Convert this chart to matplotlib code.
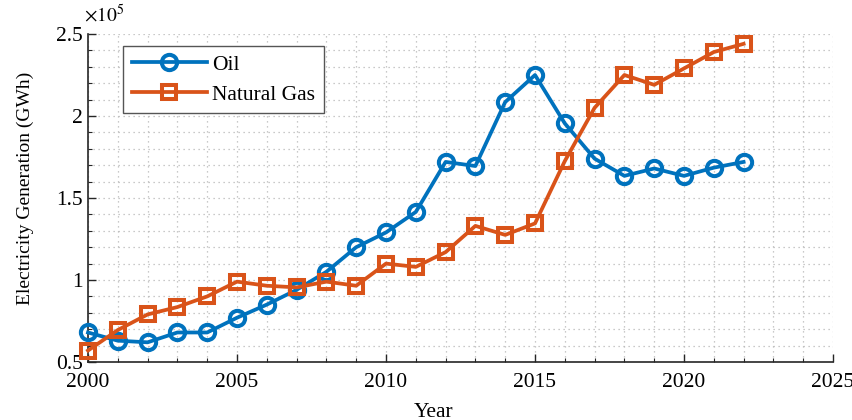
import matplotlib
matplotlib.use("Agg")
import matplotlib.pyplot as plt
from matplotlib.ticker import MultipleLocator, FuncFormatter

plt.rcParams['font.family'] = ['Liberation Serif', 'DejaVu Serif']
plt.rcParams['mathtext.fontset'] = 'stix'

# values (GWh)
years = list(range(2000, 2023))
oil = [68000, 63000, 62000, 68000, 68000, 77000, 85000, 94000, 105000, 120000,
       129000, 141500, 172000, 169500, 208500, 225000, 195500, 174000, 163500,
       168000, 163500, 168500, 172000]
natural_gas = [57000, 69500, 79000, 83500, 90000, 99000, 96500, 95500, 99000,
               96500, 110000, 108000, 117000, 133000, 127500, 134500, 172500,
               205000, 225000, 219000, 229000, 239000, 244000]

blue = '#0072BD'
orange = '#D95319'

fig = plt.figure(figsize=(8.52, 4.2), dpi=100)
ax = fig.add_axes([88 / 852, 1 - 362 / 420, 745 / 852, 328 / 420])

ax.plot(years, oil, color=blue, lw=2.7, marker='o', ms=11, mew=2.9,
        mfc='none', label='Oil', clip_on=False, zorder=3)
ax.plot(years, natural_gas, color=orange, lw=2.7, marker='s', ms=10, mew=2.9,
        mfc='none', label='Natural Gas', clip_on=False, zorder=3)

ax.set_xlim(2000, 2025)
ax.set_ylim(0.5e5, 2.5e5)
ax.xaxis.set_major_locator(MultipleLocator(5))
ax.xaxis.set_minor_locator(MultipleLocator(1))
ax.yaxis.set_major_locator(MultipleLocator(0.5e5))
ax.yaxis.set_minor_locator(MultipleLocator(0.1e5))
ax.yaxis.set_major_formatter(FuncFormatter(lambda v, p: '%g' % (v / 1e5)))

ax.grid(which='both', linestyle=(0, (1, 3)), color='#b8b8b8', lw=0.9)
ax.set_axisbelow(True)

for side in ['top', 'right']:
    ax.spines[side].set_visible(False)
for side in ['left', 'bottom']:
    ax.spines[side].set_color('#262626')
    ax.spines[side].set_linewidth(1.2)

ax.tick_params(which='both', direction='in', colors='#262626', labelcolor='black',
               labelsize=15.5, top=False, right=False)
ax.tick_params(which='major', length=6, width=1.0)
ax.tick_params(which='minor', length=3, width=0.8)
ax.tick_params(axis='x', pad=8)

ax.text(-0.005, 1.025, r'$\times10^{5}$', transform=ax.transAxes, fontsize=14,
        ha='left', va='bottom')

ax.set_xlabel('Year', fontsize=15.5)
ax.xaxis.set_label_coords(0.464, -0.125)
ax.set_ylabel('Electricity Generation (GWh)', fontsize=14)
ax.yaxis.set_label_coords(-0.073, 0.53)

leg = ax.legend(loc='upper left', bbox_to_anchor=(0.047, 0.963), borderaxespad=0,
                fontsize=15.5, fancybox=False, framealpha=1, edgecolor='#555555',
                handlelength=3.5, handletextpad=0.25, labelspacing=0.45,
                borderpad=0.4)
leg.get_frame().set_linewidth(1.0)

fig.savefig('out.png', dpi=100)
